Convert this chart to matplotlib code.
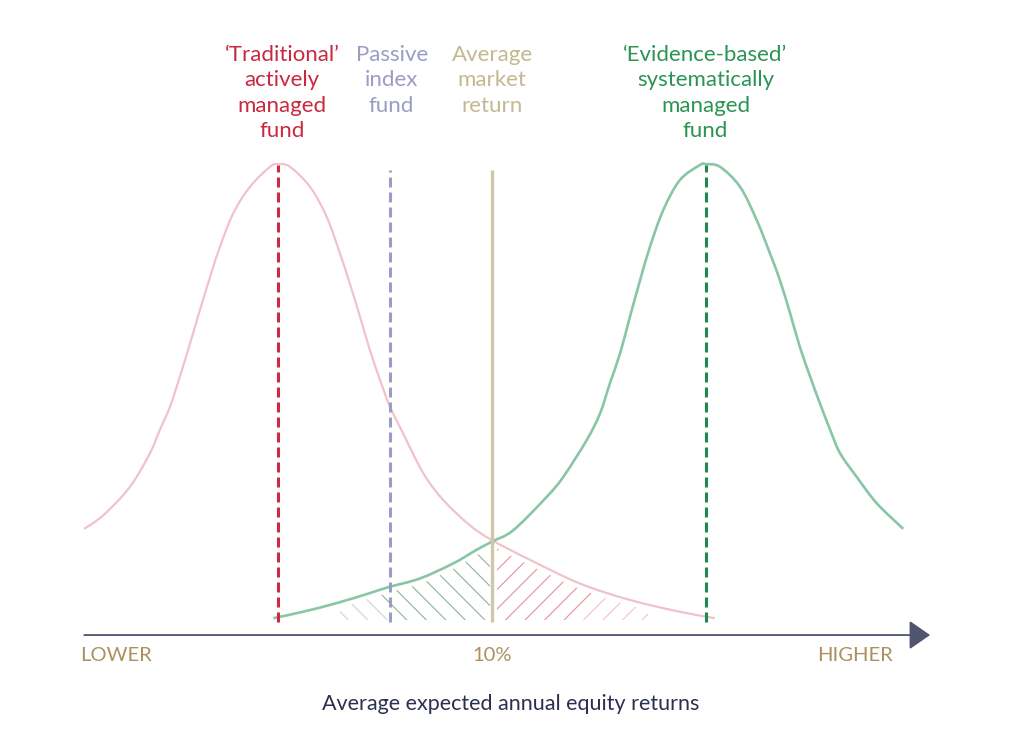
import matplotlib
matplotlib.use("Agg")
import matplotlib.pyplot as plt
from matplotlib.path import Path
from matplotlib.patches import PathPatch
from matplotlib.collections import LineCollection
from matplotlib.transforms import Bbox, TransformedBbox
import numpy as np

# return (%) vs relative frequency
red_x = [0.45, 0.90, 1.52, 1.99, 2.22, 2.46, 2.69, 2.93, 3.16, 3.40, 3.63, 3.94,
         4.33, 4.80, 5.00, 5.27, 5.74, 6.13, 6.44, 6.67, 6.91, 7.14, 7.38, 7.61,
         7.92, 8.39, 8.86, 9.48, 10.00, 10.89, 12.06, 13.23, 14.40, 15.22]
red_y = [0.200, 0.230, 0.292, 0.366, 0.417, 0.468, 0.534, 0.607, 0.680, 0.753,
         0.819, 0.892, 0.950, 0.994, 1.000, 0.994, 0.950, 0.884, 0.804, 0.738,
         0.665, 0.592, 0.526, 0.468, 0.409, 0.322, 0.263, 0.208, 0.175, 0.132,
         0.080, 0.044, 0.018, 0.004]

green_x = [4.88, 5.57, 6.36, 7.14, 7.57, 8.31, 9.09, 9.64, 10.00, 10.50, 11.28,
           11.67, 12.22, 12.53, 12.76, 13.00, 13.23, 13.47, 13.70, 14.01, 14.40,
           14.87, 15.00, 15.34, 15.81, 16.20, 16.51, 16.74, 16.98, 17.21, 17.45,
           17.68, 17.92, 18.15, 18.54, 19.01, 19.63]
green_y = [0.004, 0.018, 0.037, 0.059, 0.072, 0.091, 0.124, 0.154, 0.172, 0.197,
           0.270, 0.314, 0.395, 0.453, 0.519, 0.585, 0.665, 0.746, 0.819, 0.899,
           0.965, 0.998, 1.000, 0.994, 0.950, 0.877, 0.804, 0.746, 0.673, 0.599,
           0.534, 0.475, 0.417, 0.366, 0.314, 0.256, 0.200]

# reference lines
marker_x = [5.0, 7.6, 10.0, 15.0]
marker_top = [0.998, 0.987, 0.987, 0.998]
marker_col = ["#cc2a40", "#9a9cc4", "#cfc7a8", "#1f8a4c"]
marker_dash = [True, True, False, True]

labels = ["\u2018Traditional\u2019\nactively\nmanaged\nfund",
          "Passive\nindex\nfund",
          "Average\nmarket\nreturn",
          "\u2018Evidence-based\u2019\nsystematically\nmanaged\nfund"]
label_x = [5.08, 7.65, 10.0, 15.0]
label_col = ["#c9283e", "#9a9cc4", "#c4b891", "#2a9452"]

tick_text = ["LOWER", "10%", "HIGHER"]
tick_x = [0.35, 10.0, 19.39]
tick_ha = ["left", "center", "right"]

# shaded tails: x range of each hatch
green_tail = (6.44, 9.95)
red_tail = (10.12, 13.65)

plt.rcParams["font.family"] = ["Lato", "DejaVu Sans"]
plt.rcParams["lines.scale_dashes"] = False

PX_X = 42.7   # pixels per unit of x
PX_Y = 456.0  # pixels per unit of y

fig = plt.figure(figsize=(10.13, 7.44), dpi=100)
ax = fig.add_axes([0, 0, 1, 1])
ax.set_xlim(-1.522, 22.201)
ax.set_ylim(-0.272, 1.360)
ax.axis("off")


def smooth_path(x, y):
    """Catmull-Rom through the read points, as bezier segments"""
    p = np.column_stack([x, y])
    p = np.vstack([p[0], p, p[-1]])
    verts = [p[1]]
    codes = [Path.MOVETO]
    for i in range(1, len(p) - 2):
        c1 = p[i] + (p[i + 1] - p[i - 1]) / 6
        c2 = p[i + 1] - (p[i + 2] - p[i]) / 6
        verts += [c1, c2, p[i + 1]]
        codes += [Path.CURVE4] * 3
    return Path(verts, codes)


def hatch(x, y, tail, col, direction, fade_side):
    # clip region: under the curve, a little below it, within the tail
    under = smooth_path(x, np.array(y) - 0.012)
    v = np.vstack([[x[0], 0], under.vertices, [x[-1], 0]])
    c = [Path.MOVETO, Path.LINETO] + list(under.codes[1:]) + [Path.LINETO]
    clip = PathPatch(Path(v, c), transform=ax.transData)
    box = TransformedBbox(Bbox([[tail[0], -0.01], [tail[1], 1.2]]),
                          ax.transData)
    step = 19.5 / PX_X
    length = 220
    starts = np.arange(tail[0] - 3, tail[1] + 3, step)
    segs, cols = [], []
    for s in starts:
        segs.append([(s, 0), (s + direction * length / PX_X, length / PX_Y)])
        # lighter towards the outer end of the tail
        if fade_side == "left":
            a = 1.0 if s > tail[0] + 1.3 else 0.5
        else:
            a = 1.0 if s < tail[1] - 1.6 else 0.55
        cols.append(matplotlib.colors.to_rgba(col, a))
    lc = LineCollection(segs, colors=cols, linewidths=0.8, zorder=1)
    ax.add_collection(lc)
    lc.set_clip_path(clip)
    lc.set_clip_box(box)


hatch(green_x, green_y, green_tail, "#8db39e", -1, "left")
hatch(red_x, red_y, red_tail, "#e5909c", 1, "right")

ax.add_patch(PathPatch(smooth_path(red_x, red_y), fill=False,
                       edgecolor="#f0c2c9", lw=1.6, zorder=2))
ax.add_patch(PathPatch(smooth_path(green_x, green_y), fill=False,
                       edgecolor="#88c6a6", lw=1.9, zorder=3))

for x, top, c, dashed in zip(marker_x, marker_top, marker_col, marker_dash):
    if dashed:
        ax.plot([x, x], [-0.004, top], color=c, lw=2.2, dashes=(7.2, 3.6),
                zorder=4)
    else:
        ax.plot([x, x], [-0.004, top], color=c, lw=2.4, zorder=4,
                solid_capstyle="butt")

for txt, x, c in zip(labels, label_x, label_col):
    ax.text(x, 1.262, txt, color=c, fontsize=16, ha="center", va="top",
            linespacing=1.35)

# horizontal axis arrow
ax.annotate("", xy=(20.26, -0.033), xytext=(0.45, -0.033),
            arrowprops=dict(arrowstyle="-|>,head_length=0.65,head_width=0.45",
                            color="#50546f", lw=1.3, mutation_scale=20,
                            shrinkA=0, shrinkB=0))

for txt, x, ha in zip(tick_text, tick_x, tick_ha):
    ax.text(x, -0.077, txt, color="#ab9160", fontsize=14.5, ha=ha,
            va="center")

ax.text(10.44, -0.184, "Average expected annual equity returns",
        color="#2c3050", fontsize=15.5, ha="center", va="center")

fig.savefig("out.png", dpi=100)
